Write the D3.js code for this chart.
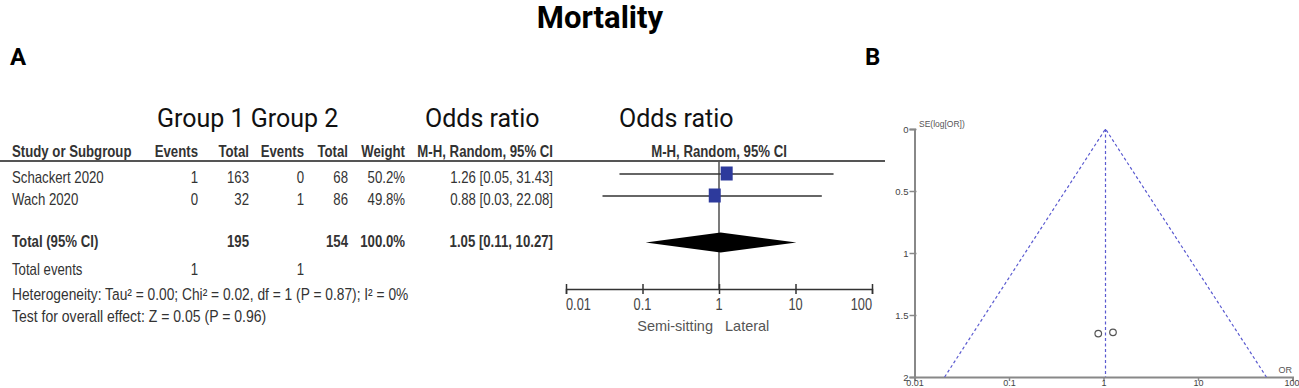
<!DOCTYPE html>
<html>
<head>
<meta charset="utf-8">
<script src="https://cdn.jsdelivr.net/npm/d3@7/dist/d3.min.js"></script>
<style>
  body { margin: 0; background: #fff; }
  .narrow { font-family: "Liberation Sans", Arial, sans-serif; fill: #333; }
  .hdr { font-weight: bold; }
</style>
</head>
<body>
<div id="chart"></div>
<script>
// study data
var studies   = ["Schackert 2020", "Wach 2020"];
var g1Events  = [1, 0];
var g1Total   = [163, 32];
var g2Events  = [0, 1];
var g2Total   = [68, 86];
var weights   = ["50.2%", "49.8%"];
var oddsRatio = [1.26, 0.88];
var ciLow     = [0.05, 0.03];
var ciHigh    = [31.43, 22.08];
var seLogOR   = [1.64, 1.65];

// pooled
var pooled      = [1.05, 0.11, 10.27];   // OR, lower, upper
var pooledTotal = [195, 154];
var totalEvents = [1, 1];
var heterogeneity = "Heterogeneity: Tau\u00b2 = 0.00; Chi\u00b2 = 0.02, df = 1 (P = 0.87); I\u00b2 = 0%";
var overallTest   = "Test for overall effect: Z = 0.05 (P = 0.96)";

var orTicks = [0.01, 0.1, 1, 10, 100];
var seTicks = [0, 0.5, 1, 1.5, 2];

var width = 1299, height = 388;
var squeeze = 0.8;   // no narrow font installed, so squeeze Liberation Sans

var svg = d3.select("#chart").append("svg")
    .attr("width", width)
    .attr("height", height);

// draws condensed text, like RevMan's Arial Narrow
function narrow(parent, x, y, anchor, size, bold, txt, sq) {
    return parent.append("text")
        .attr("class", "narrow" + (bold ? " hdr" : ""))
        .attr("transform", "translate(" + x + "," + y + ") scale(" + (sq || squeeze) + ",1)")
        .attr("text-anchor", anchor)
        .style("font-size", size + "px")
        .text(txt);
}

//Titles
svg.append("text").attr("x", 600).attr("y", 28)
    .attr("text-anchor", "middle")
    .style("font-family", "Roboto").style("font-weight", "bold").style("font-size", "31px")
    .text("Mortality");
svg.append("text").attr("x", 10).attr("y", 65)
    .style("font-family", "Roboto").style("font-weight", "bold").style("font-size", "24px")
    .text("A");
svg.append("text").attr("x", 865).attr("y", 65)
    .style("font-family", "Roboto").style("font-weight", "bold").style("font-size", "24px")
    .text("B");

var big = [["Group 1 Group 2", 157], ["Odds ratio", 425], ["Odds ratio", 619]];
svg.selectAll(".big").data(big).enter().append("text")
    .attr("class", "big")
    .attr("x", function(d) { return d[1]; })
    .attr("y", 127)
    .style("font-family", "Roboto").style("font-size", "25px").style("fill", "#111")
    .text(function(d) { return d[0]; });

// ---------- forest plot table ----------
var colRight = {e1: 198, t1: 249, e2: 304, t2: 348, w: 405, ci: 553};
var headers = [
    {t: "Study or Subgroup", x: 12, a: "start"},
    {t: "Events", x: colRight.e1, a: "end"},
    {t: "Total", x: colRight.t1, a: "end"},
    {t: "Events", x: colRight.e2, a: "end"},
    {t: "Total", x: colRight.t2, a: "end"},
    {t: "Weight", x: colRight.w, a: "end"},
    {t: "M-H, Random, 95% CI", x: colRight.ci, a: "end"}
];

var xF = d3.scaleLog().domain([0.01, 100]).range([566, 872]);

headers.forEach(function(h) { narrow(svg, h.x, 157, h.a, 16.5, true, h.t); });
narrow(svg, xF(1), 157, "middle", 16.5, true, "M-H, Random, 95% CI");

svg.append("line").attr("x1", 0).attr("x2", 885).attr("y1", 161).attr("y2", 161)
    .attr("stroke", "#555").attr("stroke-width", 2);

var rowY = d3.scalePoint().domain(studies).range([183, 205]);

studies.forEach(function(s, i) {
    var y = rowY(s);
    narrow(svg, 12, y, "start", 16.5, false, s);
    narrow(svg, colRight.e1, y, "end", 16.5, false, g1Events[i]);
    narrow(svg, colRight.t1, y, "end", 16.5, false, g1Total[i]);
    narrow(svg, colRight.e2, y, "end", 16.5, false, g2Events[i]);
    narrow(svg, colRight.t2, y, "end", 16.5, false, g2Total[i]);
    narrow(svg, colRight.w, y, "end", 16.5, false, weights[i]);
    narrow(svg, colRight.ci, y, "end", 16.5, false,
        oddsRatio[i].toFixed(2) + " [" + ciLow[i].toFixed(2) + ", " + ciHigh[i].toFixed(2) + "]");
});

// total row
var totY = 247;
narrow(svg, 12, totY, "start", 16.5, true, "Total (95% CI)");
narrow(svg, colRight.t1, totY, "end", 16.5, true, pooledTotal[0]);
narrow(svg, colRight.t2, totY, "end", 16.5, true, pooledTotal[1]);
narrow(svg, colRight.w, totY, "end", 16.5, true, "100.0%");
narrow(svg, colRight.ci, totY, "end", 16.5, true,
    pooled[0].toFixed(2) + " [" + pooled[1].toFixed(2) + ", " + pooled[2].toFixed(2) + "]");

narrow(svg, 12, 275, "start", 16.5, false, "Total events");
narrow(svg, colRight.e1, 275, "end", 16.5, false, totalEvents[0]);
narrow(svg, colRight.e2, 275, "end", 16.5, false, totalEvents[1]);
narrow(svg, 12, 300, "start", 16.5, false, heterogeneity, 0.835);
narrow(svg, 12, 322, "start", 16.5, false, overallTest, 0.85);

// ---------- forest plot graphic ----------
var axisY = 289;
svg.append("line").attr("x1", xF(1)).attr("x2", xF(1)).attr("y1", 162).attr("y2", axisY)
    .attr("stroke", "#333").attr("stroke-width", 1.3);

studies.forEach(function(s, i) {
    var y = rowY(s) - 9;
    svg.append("line")
        .attr("x1", xF(ciLow[i])).attr("x2", xF(ciHigh[i]))
        .attr("y1", y).attr("y2", y)
        .attr("stroke", "#333").attr("stroke-width", 1.3);
    svg.append("rect")
        .attr("x", xF(oddsRatio[i]) - 6).attr("y", y - 7.5)
        .attr("width", 12).attr("height", 14)
        .attr("fill", "#2d3a9c");
});

var dY = 242.5;
svg.append("path")
    .attr("d", "M" + xF(pooled[1]) + "," + dY + "L" + xF(pooled[0]) + "," + (dY - 10) +
               "L" + xF(pooled[2]) + "," + dY + "L" + xF(pooled[0]) + "," + (dY + 10) + "Z")
    .attr("fill", "#000");

var fAxis = svg.append("g").attr("transform", "translate(0," + axisY + ")")
    .call(d3.axisBottom(xF).tickValues(orTicks).tickSize(5).tickFormat(""));
fAxis.select(".domain").attr("stroke", "#333").attr("stroke-width", 1.5);
fAxis.selectAll(".tick line").attr("y1", -5).attr("stroke", "#333").attr("stroke-width", 1.5);
orTicks.forEach(function(t, i) {
    var a = i == 0 ? "start" : (i == orTicks.length - 1 ? "end" : "middle");
    narrow(svg, xF(t), axisY + 21, a, 16, false, d3.format("~g")(t)).style("fill", "#444");
});

svg.append("text").attr("x", xF(1) - 6).attr("y", 331).attr("text-anchor", "end")
    .style("font-family", "Liberation Sans").style("font-size", "14.5px").style("fill", "#555")
    .text("Semi-sitting");
svg.append("text").attr("x", xF(1) + 6).attr("y", 331).attr("text-anchor", "start")
    .style("font-family", "Liberation Sans").style("font-size", "14.5px").style("fill", "#555")
    .text("Lateral");

// ---------- funnel plot ----------
var xB = d3.scaleLog().domain([0.01, 100]).range([914.5, 1292.5]);
var yB = d3.scaleLinear().domain([0, 2]).range([129, 377]);
var axisCol = "#888";

var bx = svg.append("g").attr("transform", "translate(0," + yB(2) + ")")
    .call(d3.axisBottom(xB).tickValues(orTicks).tickSize(4).tickFormat(d3.format("~g")));
bx.select(".domain").attr("stroke", axisCol).attr("stroke-width", 2);
bx.selectAll(".tick line").attr("stroke", axisCol).attr("stroke-width", 1.5);
bx.selectAll(".tick text").attr("y", 3).attr("dy", "0.71em")
    .style("font-family", "Liberation Sans").style("font-size", "9px").style("fill", "#444")
    .attr("x", function(d) { return d == 100 ? -1 : 0; });

var by = svg.append("g").attr("transform", "translate(" + xB(0.01) + ",0)")
    .call(d3.axisLeft(yB).tickValues(seTicks).tickSize(5).tickFormat(d3.format("~g")));
by.select(".domain").attr("stroke", axisCol).attr("stroke-width", 2);
by.selectAll(".tick line").attr("x2", -5).attr("x1", 2).attr("stroke", axisCol).attr("stroke-width", 1.5);
by.selectAll(".tick text").attr("x", -6)
    .style("font-family", "Liberation Sans").style("font-size", "9.5px").style("fill", "#444");

svg.append("text").attr("x", 919).attr("y", 127)
    .style("font-family", "Liberation Sans").style("font-size", "8.5px").style("fill", "#555")
    .text("SE(log[OR])");
svg.append("text").attr("x", 1292).attr("y", 373).attr("text-anchor", "end")
    .style("font-family", "Liberation Sans").style("font-size", "9px").style("fill", "#555")
    .text("OR");

// pseudo 95% confidence limits
var z = 1.96, seMax = 2;
var funnel = [
    [pooled[0] * Math.exp(-z * seMax), seMax],
    [pooled[0], 0],
    [pooled[0] * Math.exp(z * seMax), seMax]
];
var line = d3.line().x(function(d) { return xB(d[0]); }).y(function(d) { return yB(d[1]); });
svg.append("path").attr("d", line(funnel))
    .attr("fill", "none").attr("stroke", "#5a5ad0").attr("stroke-width", 1.2)
    .attr("stroke-dasharray", "3,2.5");
svg.append("path").attr("d", line([[pooled[0], 0], [pooled[0], seMax]]))
    .attr("fill", "none").attr("stroke", "#5a5ad0").attr("stroke-width", 1.2)
    .attr("stroke-dasharray", "3,2.5");

svg.selectAll(".pt").data(studies).enter().append("circle")
    .attr("cx", function(d, i) { return xB(oddsRatio[i]); })
    .attr("cy", function(d, i) { return yB(seLogOR[i]); })
    .attr("r", 3.3)
    .attr("fill", "none").attr("stroke", "#555").attr("stroke-width", 1.2);
</script>
</body>
</html>
